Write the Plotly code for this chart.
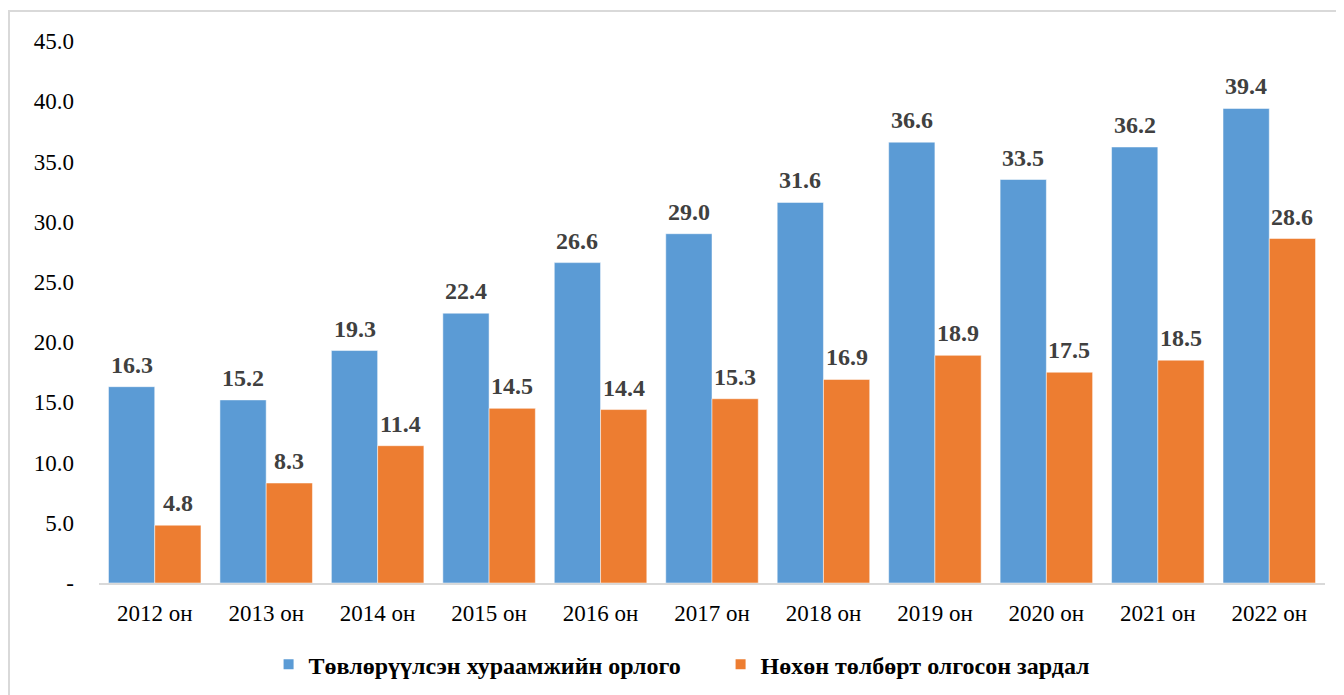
import plotly.graph_objects as go

years = ["2012 он", "2013 он", "2014 он", "2015 он", "2016 он", "2017 он",
         "2018 он", "2019 он", "2020 он", "2021 он", "2022 он"]
income = [16.3, 15.2, 19.3, 22.4, 26.6, 29.0, 31.6, 36.6, 33.5, 36.2, 39.4]
expense = [4.8, 8.3, 11.4, 14.5, 14.4, 15.3, 16.9, 18.9, 17.5, 18.5, 28.6]

y_ticks = [0, 5, 10, 15, 20, 25, 30, 35, 40, 45]
y_tick_text = ["-"] + [f"{v:.1f}" for v in y_ticks[1:]]

serif = "'Liberation Serif', 'Times New Roman', serif"

# page body has an 8px margin, so the figure is a little smaller
width, height = 1336, 687
margin_l, margin_r, margin_t, margin_b = 91, 19, 33, 112
bargap = 0.17

plot_w = width - margin_l - margin_r
plot_h = height - margin_t - margin_b
bar_w = plot_w / len(years) * (1 - bargap) / 2

fig = go.Figure()

series = [
    ("Төвлөрүүлсэн хураамжийн орлого", income, "#5B9BD5", -1),
    ("Нөхөн төлбөрт олгосон зардал", expense, "#ED7D31", 1),
]

for name, values, color, side in series:
    fig.add_trace(
        go.Bar(
            x=years,
            y=values,
            name=name,
            marker=dict(color=color, line=dict(color="#ffffff", width=0.5)),
        )
    )
    for year, v in zip(years, values):
        fig.add_annotation(
            x=year,
            y=v,
            text=f"{v:.1f}",
            showarrow=False,
            xshift=side * bar_w / 2,
            yanchor="bottom",
            yshift=7,
            font=dict(family=serif, size=24, color="#404040", weight="bold"),
        )

fig.update_layout(
    width=width,
    height=height,
    barmode="group",
    bargap=bargap,
    bargroupgap=0,
    paper_bgcolor="white",
    plot_bgcolor="white",
    font=dict(family=serif, size=23, color="#000000"),
    margin=dict(l=margin_l, r=margin_r, t=margin_t, b=margin_b, autoexpand=False),
    showlegend=True,
    legend=dict(
        orientation="h",
        x=0.507,
        xanchor="center",
        y=-0.109,
        yanchor="top",
        font=dict(family=serif, size=24, color="#000000", weight="bold"),
        entrywidth=407,
        itemsizing="constant",
    ),
)

fig.update_xaxes(
    showline=True,
    linecolor="#d9d9d9",
    linewidth=2,
    ticks="",
    showgrid=False,
    ticklabelstandoff=8,
    tickfont=dict(family=serif, size=23, color="#000000"),
)

fig.update_yaxes(
    range=[0, 45],
    tickvals=y_ticks,
    ticktext=y_tick_text,
    showgrid=False,
    showline=False,
    zeroline=False,
    ticks="",
    ticklabelstandoff=24,
    tickfont=dict(family=serif, size=23, color="#000000"),
)

# chart frame
fig.add_shape(
    type="rect",
    xref="paper",
    yref="paper",
    x0=(1 - margin_l) / plot_w,
    x1=1.05,
    y0=-0.3,
    y1=1 + (margin_t - 3) / plot_h,
    line=dict(color="#d9d9d9", width=2),
    layer="below",
)

fig.write_html("out.html")
